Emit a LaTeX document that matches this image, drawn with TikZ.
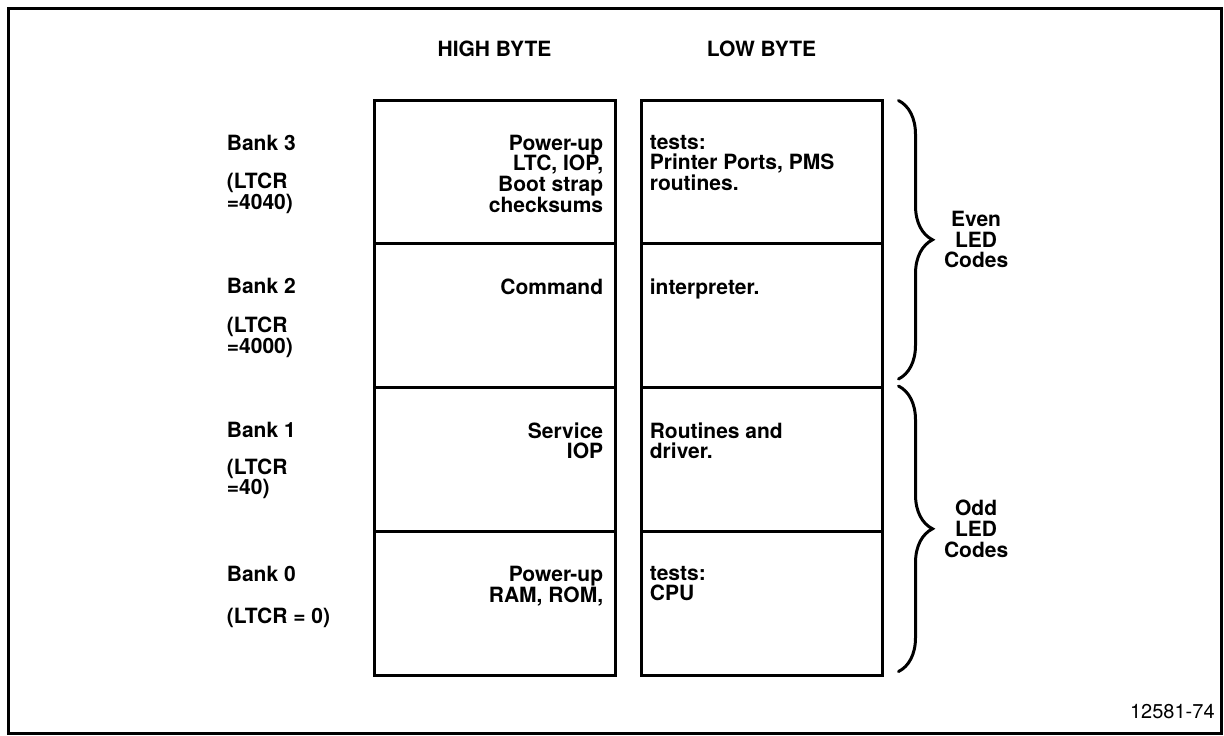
\documentclass[tikz,border=0pt]{standalone}
\usepackage{fontspec}
\setmainfont{TeX Gyre Heros}
\usetikzlibrary{positioning}
\usetikzlibrary{decorations.pathreplacing}
\tikzset{node distance=71.875pt,
    every node/.style={
        font=\fontsize{10.5}{10.3}\selectfont\bfseries},
    cell/.style={
        draw,
        line width=1.5pt,
        minimum width=120.5pt,
        minimum height=71.875pt},
    hitext/.style={
        align=right,
        inner sep=0pt},
    lotext/.style={
        align=left,
        inner sep=0pt},
    banktext/.style={
        align=left,
        inner sep=0pt},
    head/.style={
        inner sep=0pt},
    codes/.style={
        draw,
        decorate,
        decoration={brace,amplitude=17pt},
        line width=1.5pt,
        line cap=round},
    codetext/.style={
        align=center,
        inner sep=0pt}}

\begin{document}
\begin{tikzpicture}[x=0.5pt,y=-0.5pt]
        \useasboundingbox (0,0) rectangle (1224,735);
        \draw[line width=1.5pt] (8,8) rectangle (1221,733);

        \node[cell] (h3) at (494.5,171.9) {};
        \node[cell,below of=h3] (h2) {};
        \node[cell,below of=h2] (h1) {};
        \node[cell,below of=h1] (h0) {};
        \node[cell,node distance=133.5pt,right of=h3] (l3) {};
        \node[cell,below of=l3] (l2) {};
        \node[cell,below of=l2] (l1) {};
        \node[cell,below of=l1] (l0) {};

        \node[head,above=20.5pt of h3] (hhead) {HIGH BYTE};
        \node[head,above=20.5pt of l3] (lhead) {LOW BYTE};

        \node[banktext,below left=18pt and 73pt of h3.north west,anchor=north west] (b3) {Bank 3\\[9pt](LTCR\\=4040)};
        \node[banktext,below left=18pt and 73pt of h2.north west,anchor=north west] (b2) {Bank 2\\[9pt](LTCR\\=4000)};
        \node[banktext,below left=18pt and 73pt of h1.north west,anchor=north west] (b1) {Bank 1\\[8pt](LTCR\\=40)};
        \node[banktext,below left=18pt and 73pt of h0.north west,anchor=north west] (b0) {Bank 0\\[10.5pt](LTCR = 0)};

        \node[hitext,below left=18pt and 6.5pt of h3.north east] (h3t) {Power-up\\LTC, IOP,\\Boot strap\\checksums};
        \node[hitext,below left=18pt and 6.5pt of h2.north east] (h2t) {Command};
        \node[hitext,below left=18pt and 6.5pt of h1.north east] (h1t) {Service\\IOP};
        \node[hitext,below left=18pt and 6.5pt of h0.north east] (h0t) {Power-up\\RAM, ROM,};
        \node[lotext,below right=18pt and 5pt of l3.north west] (l3t) {tests:\\Printer Ports, PMS\\routines.};
        \node[lotext,below right=18pt and 5pt of l2.north west] (l2t) {interpreter.};
        \node[lotext,below right=18pt and 5pt of l1.north west] (l1t) {Routines and\\driver.};
        \node[lotext,below right=18pt and 5pt of l0.north west] (l0t) {tests:\\CPU};

        \coordinate[below right=1pt and 7.5pt of l3.north east] (evtop);
        \coordinate[above right=5pt and 7.5pt of l2.south east] (evbot);
        \coordinate[right=7.5pt of l1.north east] (odtop);
        \coordinate[above right=2.5pt and 7.5pt of l0.south east] (odbot);
        \draw[codes] (evtop) -- node[codetext,right=22pt] (even) {Even\\LED\\Codes} (evbot);
        \draw[codes] (odtop) -- node[codetext,right=22pt] (odd) {Odd\\LED\\Codes} (odbot);

        \node[font=\fontsize{10}{12}\selectfont,anchor=south east,inner sep=0pt] (fignum) at (1215,719) {12581-74};
    \end{tikzpicture}
\end{document}
